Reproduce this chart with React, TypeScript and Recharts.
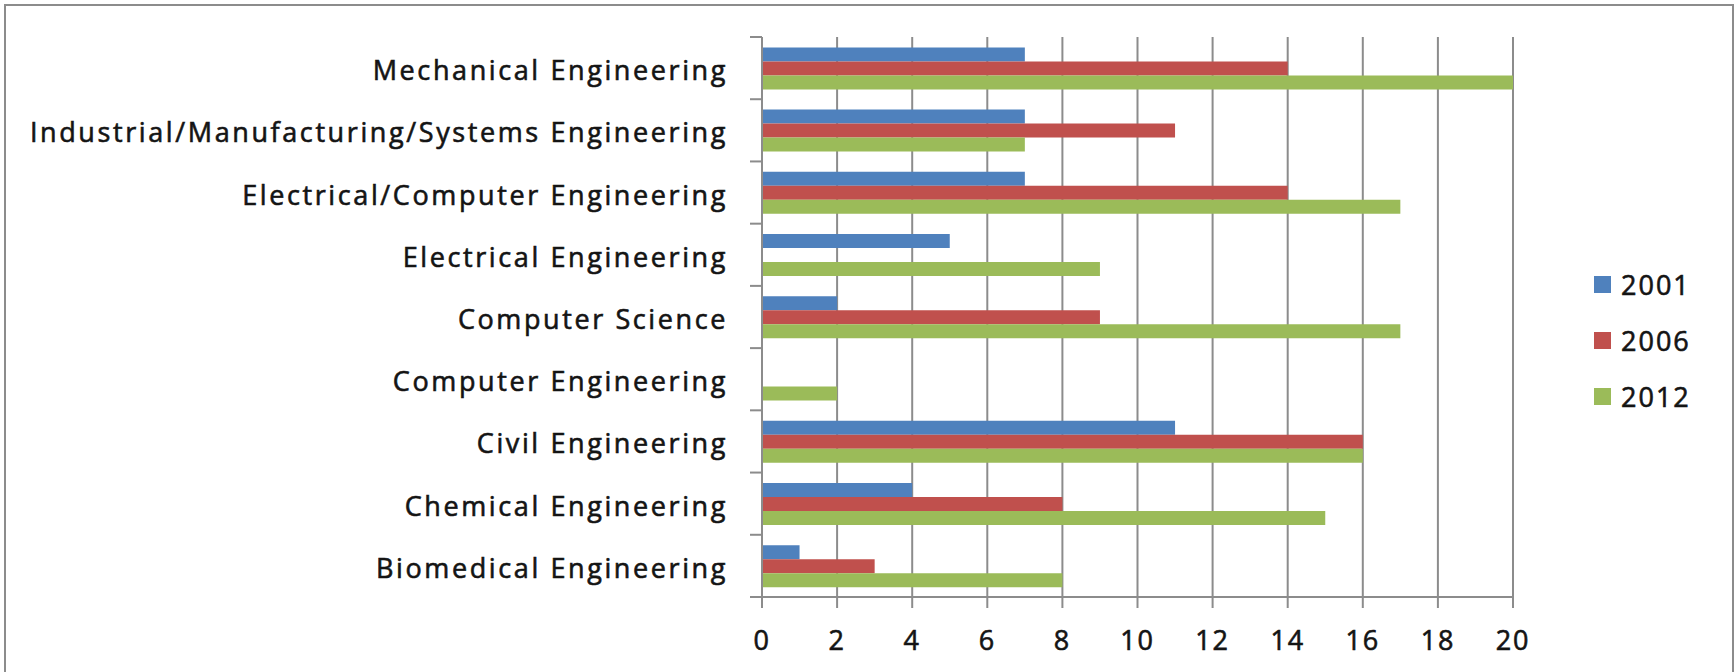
import { BarChart, Bar, XAxis, YAxis, CartesianGrid, Legend } from "recharts";

const categories = [
  "Mechanical Engineering",
  "Industrial/Manufacturing/Systems Engineering",
  "Electrical/Computer Engineering",
  "Electrical Engineering",
  "Computer Science",
  "Computer Engineering",
  "Civil Engineering",
  "Chemical Engineering",
  "Biomedical Engineering",
];
const values2001 = [7, 7, 7, 5, 2, 0, 11, 4, 1];
const values2006 = [14, 11, 14, 0, 9, 0, 16, 8, 3];
const values2012 = [20, 7, 17, 9, 17, 2, 16, 15, 8];
const seriesNames = ["2001", "2006", "2012"];
const xTicks = [0, 2, 4, 6, 8, 10, 12, 14, 16, 18, 20];

const COLORS = ["#4F81BD", "#C0504D", "#9BBB59"];
const GRID = "#8c8c8c";
const TEXT = "#141414";
const FONT = "'Open Sans', sans-serif";

const W = 1736;
const H = 672;
const PLOT_LEFT = 762;
const PLOT_RIGHT = 1513;
const PLOT_TOP = 37;
const PLOT_BOTTOM = 597;
const BAND = (PLOT_BOTTOM - PLOT_TOP) / categories.length;

const data = categories.map((name, i) => ({
  name,
  [seriesNames[0]]: values2001[i],
  [seriesNames[1]]: values2006[i],
  [seriesNames[2]]: values2012[i],
}));

// Excel-style category ticks sit on the band edges, not the centres
function CategoryTick(props: any) {
  const { x, y, payload, index } = props;
  const top = y - BAND / 2;
  return (
    <g>
      <line x1={x - 12} x2={x} y1={top} y2={top} stroke={GRID} strokeWidth={2} />
      {index === categories.length - 1 && (
        <line x1={x - 12} x2={x} y1={y + BAND / 2} y2={y + BAND / 2} stroke={GRID} strokeWidth={2} />
      )}
      <text
        x={x - 34}
        y={y}
        dy={12}
        textAnchor="end"
        fill={TEXT}
        stroke={TEXT}
        strokeWidth={0.6}
        fontSize={27}
        fontFamily={FONT}
        letterSpacing={2.6}
      >
        {payload.value}
      </text>
    </g>
  );
}

function ValueTick(props: any) {
  const { x, y, payload } = props;
  return (
    <text
      x={x}
      y={y}
      dy={42}
      textAnchor="middle"
      fill={TEXT}
      stroke={TEXT}
      strokeWidth={0.6}
      fontSize={27}
      fontFamily={FONT}
      letterSpacing={1.8}
    >
      {payload.value}
    </text>
  );
}

function LegendBox(props: any) {
  const items = props.payload || [];
  return (
    <div
      style={{
        fontFamily: FONT,
        fontSize: 27,
        color: TEXT,
        letterSpacing: 2,
        WebkitTextStroke: `0.6px ${TEXT}`,
      }}
    >
      {items.map((item: any) => (
        <div key={item.value} style={{ display: "flex", alignItems: "center", height: 56 }}>
          <span
            style={{
              display: "inline-block",
              width: 17,
              height: 17,
              background: item.color,
              marginRight: 10,
            }}
          />
          <span>{item.value}</span>
        </div>
      ))}
    </div>
  );
}

export default function App() {
  return (
    <div style={{ position: "absolute", left: 0, top: 0, width: W, height: H, overflow: "hidden", background: "#fff" }}>
      <div
        style={{
          position: "absolute",
          left: 4,
          top: 4,
          width: W - 10,
          height: H + 20,
          border: `2px solid ${GRID}`,
          borderBottom: "none",
        }}
      />
      <div style={{ position: "absolute", left: 0, top: 0 }}>
        <BarChart
          width={W}
          height={H}
          data={data}
          layout="vertical"
          margin={{ top: PLOT_TOP, right: W - PLOT_RIGHT, bottom: 13, left: 0 }}
          barCategoryGap="16.7%"
          barGap={0}
        >
          <CartesianGrid horizontal={false} stroke={GRID} strokeWidth={2} />
          <XAxis
            type="number"
            domain={[0, 20]}
            ticks={xTicks}
            interval={0}
            height={H - PLOT_BOTTOM - 13}
            axisLine={{ stroke: GRID, strokeWidth: 2 }}
            tickLine={{ stroke: GRID, strokeWidth: 2 }}
            tickSize={11}
            tickMargin={0}
            tick={<ValueTick />}
          />
          <YAxis
            type="category"
            dataKey="name"
            width={PLOT_LEFT}
            interval={0}
            axisLine={{ stroke: GRID, strokeWidth: 2 }}
            tickLine={false}
            tickSize={0}
            tickMargin={0}
            tick={<CategoryTick />}
          />
          <Legend
            layout="vertical"
            align="center"
            verticalAlign="middle"
            wrapperStyle={{ left: 1594, top: 256, width: 130 }}
            content={<LegendBox />}
          />
          {seriesNames.map((s, i) => (
            <Bar key={s} dataKey={s} fill={COLORS[i]} isAnimationActive={false} />
          ))}
        </BarChart>
      </div>
    </div>
  );
}
